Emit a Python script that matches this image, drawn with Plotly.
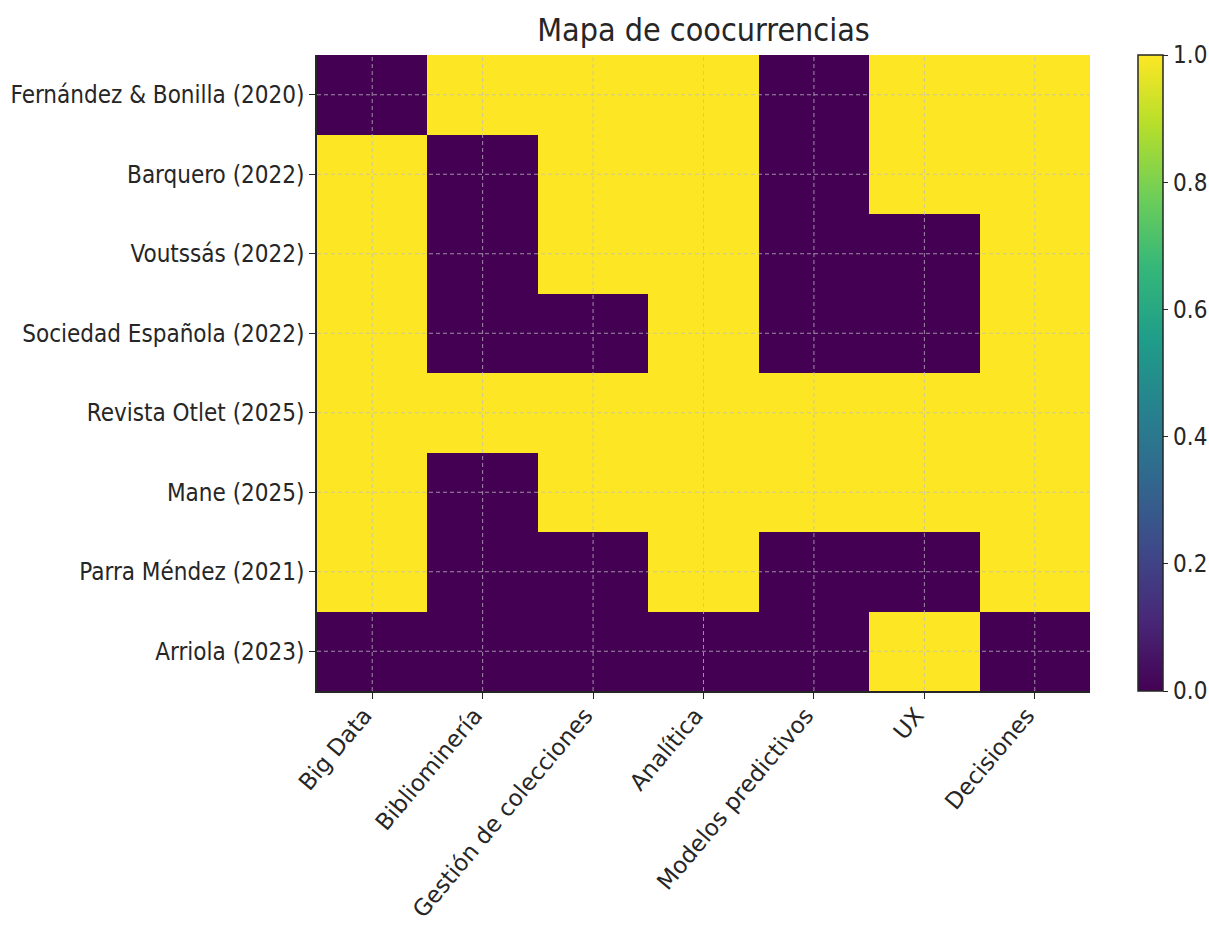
import plotly.graph_objects as go

topics = ["Big Data", "Bibliominería", "Gestión de colecciones", "Analítica",
          "Modelos predictivos", "UX", "Decisiones"]
sources = ["Fernández & Bonilla (2020)", "Barquero (2022)", "Voutssás (2022)",
           "Sociedad Española (2022)", "Revista Otlet (2025)", "Mane (2025)",
           "Parra Méndez (2021)", "Arriola (2023)"]
fernandez = [0, 1, 1, 1, 0, 1, 1]
barquero = [1, 0, 1, 1, 0, 1, 1]
voutssas = [1, 0, 1, 1, 0, 0, 1]
sociedad = [1, 0, 0, 1, 0, 0, 1]
otlet = [1, 1, 1, 1, 1, 1, 1]
mane = [1, 0, 1, 1, 1, 1, 1]
parra = [1, 0, 0, 1, 0, 0, 1]
arriola = [0, 0, 0, 0, 0, 1, 0]
colorbar_ticks = [0.0, 0.2, 0.4, 0.6, 0.8, 1.0]

z = [fernandez, barquero, voutssas, sociedad, otlet, mane, parra, arriola]
xi = list(range(len(topics)))
yi = list(range(len(sources)))

FONT = "DejaVu Sans Condensed, DejaVu Sans, sans-serif"
FONT_X = "DejaVu Sans, sans-serif"
TXT = "#262626"
L, R, T, B = 317, 1090, 55, 691
W, H = 1209, 929

fig = go.Figure(go.Heatmap(
    z=z, x=xi, y=yi, colorscale="Viridis", zmin=0, zmax=1,
    colorbar=dict(
        x=(1138 - L) / (R - L), xanchor="left", xref="paper", xpad=0, ypad=0,
        y=0.5, yanchor="middle", len=1, lenmode="fraction",
        thickness=25, thicknessmode="pixels",
        outlinewidth=1.5, outlinecolor=TXT,
        tickvals=colorbar_ticks, ticktext=[f"{v:.1f}" for v in colorbar_ticks],
        ticks="outside", ticklen=5, tickcolor=TXT, tickwidth=1.2,
        tickfont=dict(family=FONT, size=24, color=TXT),
    ),
))

grid = dict(color="rgba(190,190,190,0.75)", width=1, dash="4px,3px")
shapes = []
for i in xi:
    shapes.append(dict(type="line", xref="x", yref="paper", x0=i, x1=i, y0=0, y1=1,
                       line=grid, layer="above"))
for j in yi:
    shapes.append(dict(type="line", xref="paper", yref="y", x0=0, x1=1, y0=j, y1=j,
                       line=grid, layer="above"))

fig.update_layout(
    width=W, height=H,
    margin=dict(l=L, r=W - R, t=T, b=H - B, autoexpand=False),
    paper_bgcolor="white", plot_bgcolor="white",
    title=dict(text="Mapa de coocurrencias", x=(L + R) / 2 / W, xanchor="center",
               y=1 - 30 / H, yanchor="middle",
               font=dict(family=FONT, size=32, color=TXT)),
    shapes=shapes,
    xaxis=dict(tickvals=xi, ticktext=topics, tickangle=-50,
               range=[-0.5, len(topics) - 0.5], showgrid=False, zeroline=False,
               ticks="outside", ticklen=6, tickcolor=TXT, tickwidth=1.2,
               showline=True, linecolor=TXT, linewidth=1.5, automargin=False,
               ticklabelshift=-8, ticklabelstandoff=-6,
               tickfont=dict(family=FONT_X, size=23, color=TXT)),
    yaxis=dict(tickvals=yi, ticktext=sources, autorange=False,
               range=[len(sources) - 0.5, -0.5], showgrid=False, zeroline=False,
               ticks="outside", ticklen=6, tickcolor=TXT, tickwidth=1.2,
               showline=True, linecolor=TXT, linewidth=1.5, automargin=False,
               tickfont=dict(family=FONT, size=24, color=TXT)),
)

fig.write_html("out.html", config={"displayModeBar": False},
               post_script="document.body.style.margin='0px';document.body.style.overflow='hidden';")
